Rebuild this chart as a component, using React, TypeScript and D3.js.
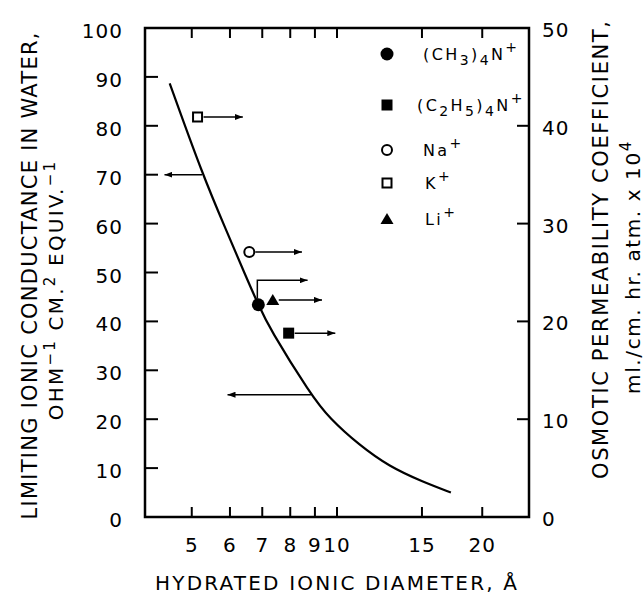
import React from "react";
import * as d3 from "d3";

// ---- data ----
const xTicks = [5, 6, 7, 8, 9, 10, 15, 20];
const leftTicks = [0, 10, 20, 30, 40, 50, 60, 70, 80, 90, 100];
const rightTicks = [0, 10, 20, 30, 40, 50];

// curve: hydrated ionic diameter (Å) vs limiting ionic conductance
const curveDiameter = [4.5, 5.27, 5.89, 6.48, 6.85, 7.24, 8.83, 9.64, 11.12, 12.83, 15.04, 17.22];
const curveConductance = [88.7, 69.9, 58.7, 49.1, 43.7, 38.6, 25.0, 20.2, 14.7, 10.3, 7.2, 5.0];

// ions: marker position (diameter, osmotic permeability on right axis), arrow
const ionNames = ["(CH3)4N+", "(C2H5)4N+", "Na+", "K+", "Li+"];
const ionSymbols = ["filledCircle", "filledSquare", "openCircle", "openSquare", "filledTriangle"];
const ionDiameter = [6.87, 7.94, 6.58, 5.14, 7.36];
const ionMarkerPerm = [21.7, 18.8, 27.1, 40.9, 22.2];
const ionArrowPerm = [24.2, 18.8, 27.1, 40.9, 22.2];
const ionArrowTo = [8.69, 9.92, 8.46, 6.38, 9.31];

// read-off arrows to left axis (conductance)
const readConductance = [70, 25];
const readFrom = [5.25, 8.83];
const readTo = [4.39, 5.93];

const FONT = "'DejaVu Sans', sans-serif";

function Symbol({ kind, cx, cy }: { kind: string; cx: number; cy: number }) {
  if (kind === "filledCircle") return <circle cx={cx} cy={cy} r={6.5} fill="#000" />;
  if (kind === "openCircle") return <circle cx={cx} cy={cy} r={5} fill="#fff" stroke="#000" strokeWidth={2} />;
  if (kind === "filledSquare") return <rect x={cx - 5.5} y={cy - 5.5} width={11} height={11} fill="#000" />;
  if (kind === "openSquare")
    return <rect x={cx - 4.5} y={cy - 4.5} width={9} height={9} fill="#fff" stroke="#000" strokeWidth={2} />;
  return <path d={`M${cx - 6.5},${cy + 5} L${cx + 6.5},${cy + 5} L${cx},${cy - 6} Z`} fill="#000" />;
}

function IonLabel({ name, x, y }: { name: string; x: number; y: number }) {
  const parts: { t: string; s: "n" | "sub" | "sup" }[] = [];
  if (name === "(CH3)4N+") {
    parts.push({ t: "(CH", s: "n" }, { t: "3", s: "sub" }, { t: ")", s: "n" }, { t: "4", s: "sub" }, { t: "N", s: "n" }, { t: "+", s: "sup" });
  } else if (name === "(C2H5)4N+") {
    parts.push({ t: "(C", s: "n" }, { t: "2", s: "sub" }, { t: "H", s: "n" }, { t: "5", s: "sub" }, { t: ")", s: "n" }, { t: "4", s: "sub" }, { t: "N", s: "n" }, { t: "+", s: "sup" });
  } else {
    parts.push({ t: name.slice(0, -1), s: "n" }, { t: "+", s: "sup" });
  }
  let prev = 0;
  return (
    <text x={x} y={y} fontFamily={FONT} fontSize={16} letterSpacing={2.4} fill="#000">
      {parts.map((p, i) => {
        const off = p.s === "sub" ? 5 : p.s === "sup" ? -8 : 0;
        const dy = off - prev;
        prev = off;
        return (
          <tspan key={i} dy={dy} fontSize={p.s === "n" ? 16 : 14}>
            {p.t}
          </tspan>
        );
      })}
    </text>
  );
}

export default function App() {
  const x = d3.scaleLog().domain([4, 25]).range([145, 529]);
  const yL = d3.scaleLinear().domain([0, 100]).range([517, 28]);
  const yR = d3.scaleLinear().domain([0, 50]).range([517, 28]);
  const [x0, x1] = x.range();
  const [yb, yt] = yL.range();

  const line = d3
    .line<number>()
    .x((_, i) => x(curveDiameter[i]))
    .y((d) => yL(d))
    .curve(d3.curveBasis);

  const legendX = 387;
  const legendTextX = [423, 417, 423, 425, 425];
  const legendY = [54, 105, 150, 183, 219];

  return (
    <svg width={644} height={595} style={{ position: "absolute", left: 0, top: 0, background: "#fff" }}>
      <defs>
        <marker id="arr" viewBox="0 0 8 6" refX={8} refY={3} markerWidth={8} markerHeight={6} markerUnits="userSpaceOnUse" orient="auto">
          <path d="M0,0 L8,3 L0,6 Z" fill="#000" />
        </marker>
      </defs>
      <rect x={0} y={0} width={644} height={595} fill="#fff" />

      {/* frame */}
      <rect x={x0} y={yt} width={x1 - x0} height={yb - yt} fill="none" stroke="#000" strokeWidth={2.5} />

      {/* x ticks bottom & top */}
      {xTicks.map((t) => (
        <g key={t}>
          <line x1={x(t)} x2={x(t)} y1={yb} y2={yb - 10} stroke="#000" strokeWidth={2} />
          <line x1={x(t)} x2={x(t)} y1={yt} y2={yt + 10} stroke="#000" strokeWidth={2} />
          <text x={x(t)} y={552} textAnchor="middle" fontFamily={FONT} fontSize={20} letterSpacing={1} fill="#000">
            {t}
          </text>
        </g>
      ))}

      {/* left ticks */}
      {leftTicks.map((t) => (
        <g key={t}>
          {t > 0 && t < 100 && <line x1={x0} x2={x0 + 13} y1={yL(t)} y2={yL(t)} stroke="#000" strokeWidth={2} />}
          <text x={123} y={yL(t) + 3} textAnchor="end" dominantBaseline="central" fontFamily={FONT} fontSize={20} letterSpacing={1} fill="#000">
            {t}
          </text>
        </g>
      ))}

      {/* right ticks */}
      {rightTicks.map((t) => (
        <g key={t}>
          {t > 0 && t < 50 && <line x1={x1} x2={x1 - 12} y1={yR(t)} y2={yR(t)} stroke="#000" strokeWidth={2} />}
          <text x={542} y={yR(t) + 2} textAnchor="start" dominantBaseline="central" fontFamily={FONT} fontSize={20} letterSpacing={1} fill="#000">
            {t}
          </text>
        </g>
      ))}

      {/* curve */}
      <path d={line(curveConductance) || ""} fill="none" stroke="#000" strokeWidth={2.2} />

      {/* read-off arrows (left axis) */}
      {readConductance.map((c, i) => (
        <line key={i} x1={x(readFrom[i])} x2={x(readTo[i])} y1={yL(c)} y2={yL(c)} stroke="#000" strokeWidth={1.5} markerEnd="url(#arr)" />
      ))}

      {/* ion markers and arrows (right axis) */}
      {ionNames.map((n, i) => {
        const cx = x(ionDiameter[i]);
        const cy = yR(ionMarkerPerm[i]);
        const ay = yR(ionArrowPerm[i]);
        const bent = ionArrowPerm[i] !== ionMarkerPerm[i];
        return (
          <g key={n}>
            {bent ? (
              <path
                d={`M${cx - 1},${cy - 6} L${cx - 1},${ay} L${x(ionArrowTo[i])},${ay}`}
                fill="none"
                stroke="#000"
                strokeWidth={1.5}
                markerEnd="url(#arr)"
              />
            ) : (
              <line x1={cx + 6} x2={x(ionArrowTo[i])} y1={ay} y2={ay} stroke="#000" strokeWidth={1.5} markerEnd="url(#arr)" />
            )}
            <Symbol kind={ionSymbols[i]} cx={cx} cy={cy} />
          </g>
        );
      })}

      {/* legend */}
      {ionNames.map((n, i) => (
        <g key={"lg" + n}>
          <Symbol kind={ionSymbols[i]} cx={legendX} cy={legendY[i]} />
          <IonLabel name={n} x={legendTextX[i]} y={legendY[i] + 6} />
        </g>
      ))}

      {/* axis titles */}
      <text x={336} y={590} textAnchor="middle" fontFamily={FONT} fontSize={20} textLength={362} lengthAdjust="spacing" fill="#000">
        HYDRATED IONIC DIAMETER, Å
      </text>

      <text
        transform="translate(37,276) rotate(-90)"
        textAnchor="middle"
        fontFamily={FONT}
        fontSize={21}
        textLength={487}
        lengthAdjust="spacing"
        fill="#000"
      >
        LIMITING IONIC CONDUCTANCE IN WATER,
      </text>
      <text
        transform="translate(63,290) rotate(-90)"
        textAnchor="middle"
        fontFamily={FONT}
        fontSize={20}
        letterSpacing={2.2}
        fill="#000"
      >
        <tspan>OHM</tspan>
        <tspan dy={-8} fontSize={15}>−1</tspan>
        <tspan dy={8}> CM.</tspan>
        <tspan dy={-8} fontSize={15}>2</tspan>
        <tspan dy={8}> EQUIV.</tspan>
        <tspan dy={-8} fontSize={15}>−1</tspan>
      </text>

      <text
        transform="translate(608,250) rotate(-90)"
        textAnchor="middle"
        fontFamily={FONT}
        fontSize={21}
        textLength={458}
        lengthAdjust="spacing"
        fill="#000"
      >
        OSMOTIC PERMEABILITY COEFFICIENT,
      </text>
      <text
        transform="translate(640,267) rotate(-90)"
        textAnchor="middle"
        fontFamily={FONT}
        fontSize={20}
        letterSpacing={1.6}
        fill="#000"
      >
        <tspan>ml./cm. hr. atm. x 10</tspan>
        <tspan dy={-9} fontSize={15}>4</tspan>
      </text>
    </svg>
  );
}
